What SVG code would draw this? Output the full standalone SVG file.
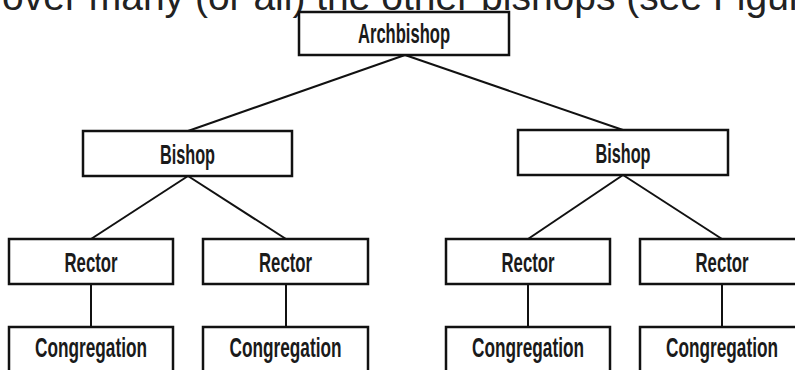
<svg xmlns="http://www.w3.org/2000/svg" width="795" height="370" viewBox="0 0 795 370">
<style>
.box{fill:#fff;stroke:#111;stroke-width:2.5}
.lbl{font-family:"Liberation Sans Narrow","Liberation Sans","DejaVu Sans Condensed",sans-serif;font-weight:bold;font-size:28px;fill:#1a1a1a;text-anchor:middle}
.con{stroke:#111;stroke-width:2;fill:none}
.cap{font-family:"Liberation Sans",Arial,sans-serif;font-size:39px;fill:#222}
</style>
<rect width="795" height="370" fill="#fff"/>
<text class="cap" x="2" y="10">over many (or all) the other bishops (see Figure</text>
<g id="connectors">
<line class="con" x1="405" y1="55" x2="188" y2="131"/>
<line class="con" x1="405" y1="55" x2="623" y2="130"/>
<line class="con" x1="188" y1="176" x2="91" y2="239"/>
<line class="con" x1="188" y1="176" x2="286" y2="239"/>
<line class="con" x1="623" y1="175" x2="528" y2="239"/>
<line class="con" x1="623" y1="175" x2="722" y2="239"/>
<line class="con" x1="91" y1="284" x2="91" y2="327"/>
<line class="con" x1="286" y1="284" x2="286" y2="327"/>
<line class="con" x1="528" y1="284" x2="528" y2="327"/>
<line class="con" x1="722" y1="284" x2="722" y2="327"/>
</g>
<g id="archbishop"><rect class="box" x="299" y="12" width="210" height="43"/><text class="lbl" x="404" y="43" textLength="92" lengthAdjust="spacingAndGlyphs">Archbishop</text></g>
<g id="bishop-left"><rect class="box" x="83" y="131" width="209" height="45"/><text class="lbl" x="187.5" y="163.5" textLength="55" lengthAdjust="spacingAndGlyphs">Bishop</text></g>
<g id="bishop-right"><rect class="box" x="518" y="130" width="210" height="45"/><text class="lbl" x="623" y="162.5" textLength="55" lengthAdjust="spacingAndGlyphs">Bishop</text></g>
<g id="rector-1"><rect class="box" x="9" y="239" width="164" height="45"/><text class="lbl" x="91" y="271.5" textLength="53" lengthAdjust="spacingAndGlyphs">Rector</text></g>
<g id="rector-2"><rect class="box" x="203" y="239" width="165" height="45"/><text class="lbl" x="285.5" y="271.5" textLength="53" lengthAdjust="spacingAndGlyphs">Rector</text></g>
<g id="rector-3"><rect class="box" x="446" y="239" width="164" height="45"/><text class="lbl" x="528" y="271.5" textLength="53" lengthAdjust="spacingAndGlyphs">Rector</text></g>
<g id="rector-4"><rect class="box" x="640" y="239" width="164" height="45"/><text class="lbl" x="722" y="271.5" textLength="53" lengthAdjust="spacingAndGlyphs">Rector</text></g>
<g id="congregation-1"><rect class="box" x="9" y="327" width="164" height="60"/><text class="lbl" x="91" y="357" textLength="112" lengthAdjust="spacingAndGlyphs">Congregation</text></g>
<g id="congregation-2"><rect class="box" x="203" y="327" width="165" height="60"/><text class="lbl" x="285.5" y="357" textLength="112" lengthAdjust="spacingAndGlyphs">Congregation</text></g>
<g id="congregation-3"><rect class="box" x="446" y="327" width="164" height="60"/><text class="lbl" x="528" y="357" textLength="112" lengthAdjust="spacingAndGlyphs">Congregation</text></g>
<g id="congregation-4"><rect class="box" x="640" y="327" width="164" height="60"/><text class="lbl" x="722" y="357" textLength="112" lengthAdjust="spacingAndGlyphs">Congregation</text></g>
</svg>
